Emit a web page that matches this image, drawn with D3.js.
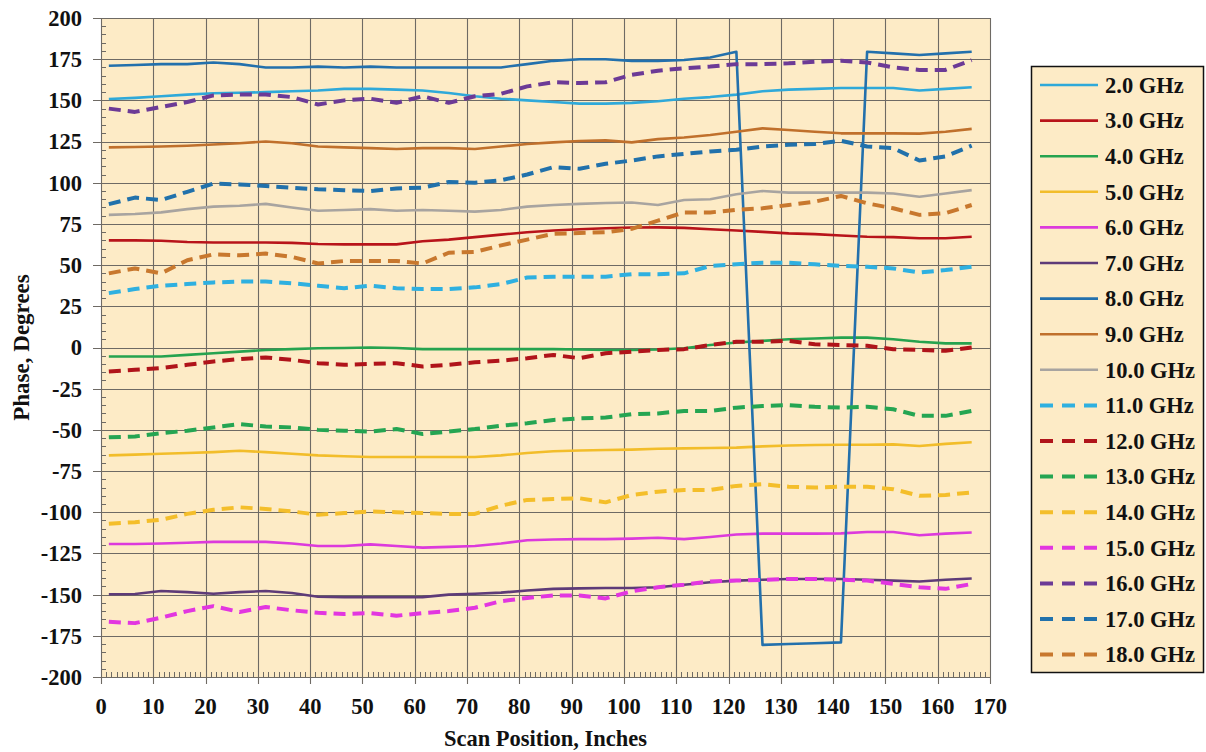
<!DOCTYPE html>
<html>
<head>
<meta charset="utf-8">
<script src="https://cdn.jsdelivr.net/npm/d3@7"></script>
<style>
	body { margin: 0; background: #fff; }
</style>
</head>
<body>
<svg id="chart" width="1206" height="752"></svg>
<script>
// scan positions, inches
var positions = d3.range(34).map(function(i) { return 1.5 + 5 * i; });

// phase readings, degrees, one array per frequency
var ghz2 = [150.8, 151.5, 152.5, 153.5, 154.3, 154.6, 155, 155.5, 156, 157, 157, 156.5, 156, 154.5, 152.5, 151, 150, 149, 148, 148, 148.5, 149.5, 151, 152, 153.5, 155.5, 156.5, 157, 157.5, 157.5, 157.5, 156, 157, 158];
var ghz3 = [65, 65, 64.8, 64, 63.7, 63.7, 63.7, 63.5, 62.8, 62.6, 62.6, 62.6, 64.5, 65.5, 67, 68.5, 70, 71, 71.8, 72.4, 72.8, 72.9, 72.6, 71.8, 71, 70.2, 69.3, 68.8, 68, 67.2, 67, 66.3, 66.3, 67.2];
var ghz4 = [-5.5, -5.5, -5.5, -4.5, -3.5, -2.5, -1.5, -1, -0.5, -0.3, 0, -0.3, -1, -1, -1, -1, -1, -1, -1.2, -1.5, -1.5, -1.2, -0.5, 1.5, 3, 4, 5, 5.5, 6, 6, 5, 3.5, 2.5, 2.5];
var ghz5 = [-65.5, -65, -64.5, -64, -63.5, -62.7, -63.5, -64.5, -65.5, -66, -66.5, -66.5, -66.5, -66.5, -66.5, -65.5, -64, -63, -62.5, -62.2, -62, -61.5, -61.2, -61, -60.8, -60, -59.5, -59.2, -59, -59, -58.8, -59.8, -58.5, -57.5];
var ghz6 = [-119.3, -119.3, -119, -118.5, -118, -118, -118, -119, -120.5, -120.5, -119.5, -120.5, -121.5, -121, -120.5, -119, -117, -116.5, -116.3, -116.3, -116, -115.5, -116.3, -115, -113.5, -113, -113, -113, -112.8, -112, -112, -114, -113, -112.3];
var ghz7 = [-149.8, -149.6, -147.8, -148.5, -149.5, -148.5, -147.8, -149, -151.3, -151.6, -151.6, -151.6, -151.5, -150, -149.5, -148.8, -147.5, -146.5, -146.2, -146, -146, -145.5, -144, -142.5, -141.5, -141, -140.5, -140.5, -140.5, -141, -141.5, -142, -141, -140.2];
var ghz8 = [171, 171.5, 172, 172, 173, 172, 170, 170, 170.5, 170, 170.5, 170, 170, 170, 170, 170, 172, 174, 175, 175, 174, 174, 174.5, 176, 179.5, -180.5, -180, -179.5, -179, 179.5, 178.5, 177.5, 178.5, 179.5];
var ghz9 = [121.5, 121.7, 122, 122.5, 123.2, 124, 125, 124, 122, 121.5, 121, 120.5, 121, 121, 120.5, 122, 123.5, 124.5, 125.3, 125.7, 124.5, 126.5, 127.5, 129, 131, 133, 132, 131, 130, 130, 130, 129.8, 131, 132.7];
var ghz10 = [80.5, 81, 82, 84, 85.5, 86, 87.2, 85, 83, 83.5, 84, 83, 83.5, 83, 82.5, 83.5, 85.5, 86.5, 87.2, 87.7, 88, 86.5, 89.5, 90, 93, 95, 94, 94, 94, 94, 93.5, 91.5, 93.5, 95.5];
var ghz11 = [33, 35.5, 37.5, 38.5, 39.5, 40, 40, 39, 37.5, 36, 37.5, 36, 35.5, 35.5, 36.5, 38.5, 42.5, 43, 43, 43, 44.5, 44.5, 45, 49.5, 50.5, 51.5, 51.5, 50.5, 49.5, 49, 48, 45.5, 47, 49];
var ghz12 = [-14.5, -13.5, -12.5, -10.5, -8.5, -7, -6, -7.5, -9.5, -10.5, -10, -9.5, -11.5, -10.5, -9, -8, -6.5, -4.5, -6.5, -3.5, -2.5, -1.5, -1, 1.5, 3.5, 3.5, 4, 2, 1.5, 1, -1, -1.5, -2, 0];
var ghz13 = [-54.5, -54, -52, -50.5, -48.5, -46.5, -48, -48.5, -50, -50.5, -51, -49.5, -52.5, -51, -49.5, -47.5, -46, -44, -43, -42.5, -40.5, -40, -38.5, -38.5, -36.5, -35.5, -35, -36, -36.5, -36, -37.5, -41.5, -41.5, -38.5];
var ghz14 = [-107, -106, -104.5, -101, -98.5, -97, -98, -99.5, -101.5, -100.5, -99.5, -100, -100.5, -101, -101, -96, -92.5, -92, -91.5, -94, -89.5, -87.5, -86.5, -86.5, -84, -83, -84.5, -85, -84.5, -84.5, -86, -90, -89.5, -88];
var ghz15 = [-166.5, -167.3, -164, -160, -157, -160.5, -157.5, -159.5, -161, -161.8, -161.2, -162.8, -161.2, -160, -158, -154, -152, -150.5, -150.5, -152.3, -148, -145.5, -144, -142, -141.5, -141, -140.5, -140.5, -141, -141.5, -143.5, -145.5, -146.5, -143.5];
var ghz16 = [145, 143, 146, 149, 153, 153.5, 153.5, 152, 147.5, 150, 151, 148.5, 152.5, 148.5, 152.5, 154, 158.5, 161, 160.5, 161, 165.5, 168, 169.5, 170.5, 172, 172, 172.5, 173.5, 174, 173, 170, 168.5, 168.5, 174.5];
var ghz17 = [87, 91, 89.5, 94.5, 99.5, 99, 98, 97, 96, 95.5, 95, 96.5, 97, 100.5, 100, 101.5, 105, 109.5, 108.5, 111.5, 113.5, 116, 117.5, 119, 120, 122, 123, 123.5, 125.5, 122, 121, 113.5, 116, 122.5];
var ghz18 = [45, 48, 45, 53, 56.5, 56, 57, 55, 51, 52.5, 52.5, 52.5, 51, 57.5, 58, 62, 65.5, 69, 69.5, 70, 72, 77, 82, 82, 83.5, 84.5, 86.5, 88.5, 92, 87.5, 84.5, 80.5, 81.5, 86.5];

var labels = ["2.0 GHz", "3.0 GHz", "4.0 GHz", "5.0 GHz", "6.0 GHz", "7.0 GHz", "8.0 GHz", "9.0 GHz", "10.0 GHz",
	"11.0 GHz", "12.0 GHz", "13.0 GHz", "14.0 GHz", "15.0 GHz", "16.0 GHz", "17.0 GHz", "18.0 GHz"];
var values = [ghz2, ghz3, ghz4, ghz5, ghz6, ghz7, ghz8, ghz9, ghz10, ghz11, ghz12, ghz13, ghz14, ghz15, ghz16, ghz17, ghz18];
var colors = ["#2fa9d9", "#b8141a", "#26a34f", "#f2bd2a", "#dc3adc", "#5e3b78", "#2370ac", "#c0702c", "#a8a4a0",
	"#2fb0e0", "#b0141a", "#25a552", "#f4be2a", "#e236e0", "#6c3a96", "#2171ab", "#c8782e"];
var dashed = [false, false, false, false, false, false, false, false, false,
	true, true, true, true, true, true, true, true];

var xTicks = d3.range(0, 171, 10);
var yTicks = d3.range(-200, 201, 25);

var FONT = "'Liberation Serif', 'Times New Roman', Times, serif";

var svg = d3.select("#chart")
	.attr("font-family", FONT)
	.attr("font-weight", "bold");
var plot = { left: 101, right: 990, top: 18, bottom: 677 };

var x = d3.scaleLinear().domain([0, 170]).range([plot.left, plot.right]);
var y = d3.scaleLinear().domain([-200, 200]).range([plot.bottom, plot.top]);

// plot background
svg.append("rect")
	.attr("x", plot.left).attr("y", plot.top)
	.attr("width", plot.right - plot.left).attr("height", plot.bottom - plot.top)
	.attr("fill", "#fdebc6");

// grid
var grid = svg.append("g").attr("stroke", "#6e6a64").attr("stroke-width", 1.1);
grid.selectAll("line.h").data(yTicks).enter().append("line")
	.attr("x1", plot.left - 8).attr("x2", plot.right)
	.attr("y1", function(d) { return Math.round(y(d)) + 0.5; })
	.attr("y2", function(d) { return Math.round(y(d)) + 0.5; });
grid.selectAll("line.v").data(xTicks).enter().append("line")
	.attr("x1", function(d) { return Math.round(x(d)) + 0.5; })
	.attr("x2", function(d) { return Math.round(x(d)) + 0.5; })
	.attr("y1", plot.top).attr("y2", plot.bottom + 7);

// minor ticks, inside the plot
var minor = svg.append("g").attr("stroke", "#6e6a64").attr("stroke-width", 1);
minor.selectAll("line.my").data(d3.range(-200, 200, 5)).enter().append("line")
	.attr("x1", plot.left).attr("x2", plot.left + 5)
	.attr("y1", function(d) { return Math.round(y(d)) + 0.5; })
	.attr("y2", function(d) { return Math.round(y(d)) + 0.5; });
minor.selectAll("line.mx").data(d3.range(0, 171, 1)).enter().append("line")
	.attr("x1", function(d) { return Math.round(x(d)) + 0.5; })
	.attr("x2", function(d) { return Math.round(x(d)) + 0.5; })
	.attr("y1", plot.bottom).attr("y2", plot.bottom - 5);

// tick labels
svg.append("g").selectAll("text").data(yTicks).enter().append("text")
	.attr("x", 82).attr("y", function(d) { return y(d); })
	.attr("dy", "0.35em").attr("text-anchor", "end")
	.attr("font-size", 22.5).attr("fill", "#111")
	.text(function(d) { return d; });
svg.append("g").selectAll("text").data(xTicks).enter().append("text")
	.attr("x", function(d) { return x(d); }).attr("y", 706)
	.attr("dy", "0.35em").attr("text-anchor", "middle")
	.attr("font-size", 22.5).attr("fill", "#111")
	.text(function(d) { return d; });

// axis titles
svg.append("text")
	.attr("x", (plot.left + plot.right) / 2).attr("y", 738)
	.attr("dy", "0.35em").attr("text-anchor", "middle")
	.attr("font-size", 22.5).attr("fill", "#111")
	.text("Scan Position, Inches");
svg.append("text")
	.attr("transform", "translate(21," + ((plot.top + plot.bottom) / 2) + ") rotate(-90)")
	.attr("dy", "0.35em").attr("text-anchor", "middle")
	.attr("font-size", 23).attr("fill", "#111")
	.text("Phase, Degrees");

// series lines
var line = d3.line()
	.x(function(d) { return x(d[0]); })
	.y(function(d) { return y(d[1]); });

var series = values.map(function(vals, i) {
	return { name: labels[i], color: colors[i], dashed: dashed[i], points: positions.map(function(p, j) { return [p, vals[j]]; }) };
});

svg.append("g").selectAll("path").data(series).enter().append("path")
	.attr("fill", "none")
	.attr("stroke", function(d) { return d.color; })
	.attr("stroke-width", function(d) { return d.dashed ? 4 : 2.6; })
	.attr("stroke-dasharray", function(d) { return d.dashed ? "12,7" : null; })
	.attr("stroke-linejoin", "round")
	.attr("d", function(d) { return line(d.points); });

// legend
var legend = svg.append("g");
legend.append("rect")
	.attr("x", 1031.5).attr("y", 66.5).attr("width", 172).attr("height", 606)
	.attr("fill", "#fdebc6").attr("stroke", "#111").attr("stroke-width", 1.5);

var item = legend.selectAll("g.item").data(series).enter().append("g")
	.attr("transform", function(d, i) { return "translate(0," + (85 + i * 35.6) + ")"; });
item.append("line")
	.attr("x1", 1040).attr("x2", 1098)
	.attr("stroke", function(d) { return d.color; })
	.attr("stroke-width", function(d) { return d.dashed ? 4 : 2.6; })
	.attr("stroke-dasharray", function(d) { return d.dashed ? "13,9" : null; });
item.append("text")
	.attr("x", 1105).attr("dy", "0.35em")
	.attr("font-size", 22.5).attr("fill", "#111")
	.text(function(d) { return d.name; });
</script>
</body>
</html>
